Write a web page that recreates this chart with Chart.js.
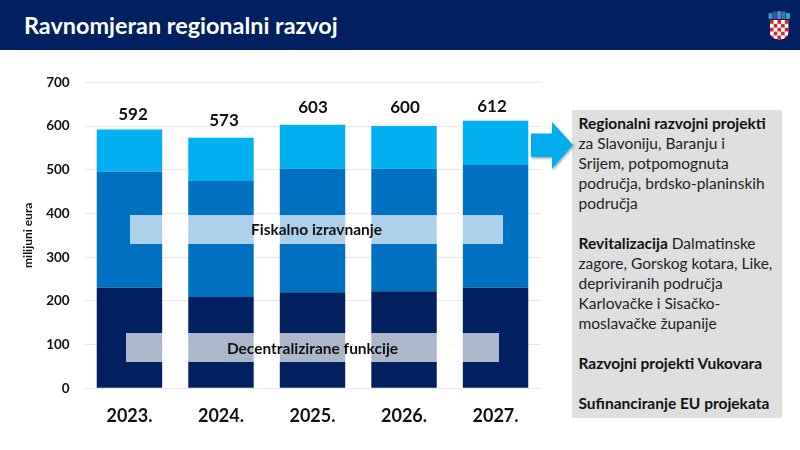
<!DOCTYPE html>
<html>
<head>
<meta charset="utf-8">
<script src="https://cdn.jsdelivr.net/npm/chart.js@4"></script>
<style>
  html, body { margin: 0; padding: 0; background: #fff; }
  body { position: relative; width: 800px; height: 450px; overflow: hidden; font-family: Lato, sans-serif; color: #111; }
  #chart { position: absolute; left: 0; top: 0; }
  #header { position: absolute; left: 0; top: 0; width: 800px; height: 50px; background: #002060; }
  #title { position: absolute; left: 24px; top: 8px; font-size: 23.4px; line-height: 34px; font-weight: 700; color: #fff; white-space: nowrap; }
  #shield { position: absolute; left: 768px; top: 10px; }
  .band { position: absolute; height: 29px; line-height: 29px; background: rgba(255,255,255,0.68); text-align: center; font-size: 15.5px; font-weight: 700; color: #111; white-space: nowrap; }
  #fiskalno { left: 130px; top: 215px; width: 373px; }
  #decentral { left: 126px; top: 333px; width: 373px; line-height: 30px; }
  #arrow { position: absolute; left: 528px; top: 118px; }
  #side { position: absolute; left: 572px; top: 110px; width: 209.5px; height: 308px; background: #dfdfdf; font-size: 15.5px; line-height: 20px; color: #222; white-space: nowrap; }
  #side div { position: absolute; left: 6.5px; }
  #side b { color: #111; }
</style>
</head>
<body>
<canvas id="chart" width="800" height="450"></canvas>
<div id="header">
  <div id="title">Ravnomjeran regionalni razvoj</div>
  <svg id="shield" width="24" height="30" viewBox="0 0 24 30">
    <defs><clipPath id="shieldClip"><path d="M2 10 H20.5 V22 Q20.5 29 11.2 29.5 Q2 29 2 22 Z"/></clipPath></defs>
    <rect x="0.5" y="3" width="4" height="6" rx="1" fill="#3f8fc0"/>
    <rect x="4.8" y="1.5" width="4" height="7.5" rx="1" fill="#2a5fa8"/>
    <rect x="9.2" y="1" width="4" height="8" rx="1" fill="#6a7fc0"/>
    <rect x="13.6" y="1.5" width="4" height="7.5" rx="1" fill="#2f7fb0"/>
    <rect x="18" y="3" width="4" height="6" rx="1" fill="#38a8a8"/>
    <rect x="2" y="10" width="18.5" height="20" fill="#fff" clip-path="url(#shieldClip)"/>
    <g id="checks" clip-path="url(#shieldClip)"></g>
  </svg>
</div>
<div class="band" id="fiskalno">Fiskalno izravnanje</div>
<div class="band" id="decentral">Decentralizirane funkcije</div>
<div id="side">
  <div style="top:3px"><b>Regionalni razvojni projekti</b></div>
  <div style="top:23px">za Slavoniju, Baranju i</div>
  <div style="top:43px">Srijem, potpomognuta</div>
  <div style="top:63px">područja, brdsko-planinskih</div>
  <div style="top:83px">područja</div>
  <div style="top:123px"><b>Revitalizacija</b> Dalmatinske</div>
  <div style="top:143px">zagore, Gorskog kotara, Like,</div>
  <div style="top:163px">depriviranih područja</div>
  <div style="top:183px">Karlovačke i Sisačko-</div>
  <div style="top:203px">moslavačke županije</div>
  <div style="top:243px"><b>Razvojni projekti Vukovara</b></div>
  <div style="top:283px"><b>Sufinanciranje EU projekata</b></div>
</div>
<svg id="arrow" width="50" height="56">
  <defs><filter id="sh" x="-20%" y="-20%" width="140%" height="140%"><feDropShadow dx="1" dy="1.5" stdDeviation="1.2" flood-color="#000" flood-opacity="0.35"/></filter></defs>
  <polygon points="3,15.5 24,15.5 24,4 45,27 24,51 24,39 3,39" fill="#00aeef" filter="url(#sh)"/>
</svg>
<script>
const years = ['2023.', '2024.', '2025.', '2026.', '2027.'];
const decentralizirane = [230, 209, 220, 222, 230];
const fiskalno = [266, 265, 282, 280, 281];
const regionalni = [96, 99, 101, 98, 101];
const totals = [592, 573, 603, 600, 612];
const yTicks = [0, 100, 200, 300, 400, 500, 600, 700];

// checker on the coat of arms
const checks = document.querySelector('#checks');
for (let r = 0; r < 5; r++) {
  for (let c = 0; c < 5; c++) {
    const cell = document.createElementNS('http://www.w3.org/2000/svg', 'rect');
    cell.setAttribute('x', 2 + c * 3.7);
    cell.setAttribute('y', 10 + r * 3.9);
    cell.setAttribute('width', 3.7);
    cell.setAttribute('height', 3.9);
    cell.setAttribute('fill', (r + c) % 2 === 0 ? '#d8232a' : '#ffffff');
    checks.appendChild(cell);
  }
}

// hand placed in the original slide, so each total has its own nudge
const nudgeX = [3.5, 3, 0.5, 1, -3.5];
const nudgeY = [-15, -17, -17, -18, -14];

const totalLabels = {
  id: 'totalLabels',
  afterDatasetsDraw(chart) {
    const { ctx, scales } = chart;
    ctx.save();
    ctx.font = '700 17px Lato, sans-serif';
    ctx.fillStyle = '#111';
    ctx.textAlign = 'center';
    ctx.textBaseline = 'middle';
    totals.forEach((total, i) => {
      ctx.fillText(String(total), scales.x.getPixelForValue(i) + nudgeX[i], scales.y.getPixelForValue(total) + nudgeY[i]);
    });
    ctx.restore();
  }
};

new Chart(document.querySelector('#chart'), {
  type: 'bar',
  data: {
    labels: years,
    datasets: [
      { label: 'Decentralizirane funkcije', data: decentralizirane, backgroundColor: '#002060' },
      { label: 'Fiskalno izravnanje', data: fiskalno, backgroundColor: '#0070c0' },
      { label: 'Regionalni razvojni projekti', data: regionalni, backgroundColor: '#00b0f0' }
    ]
  },
  options: {
    responsive: false,
    animation: false,
    barPercentage: 0.715,
    categoryPercentage: 1,
    layout: { padding: { left: 0, right: 258.7, top: 82.3, bottom: 0 } },
    plugins: { legend: { display: false }, tooltip: { enabled: false } },
    scales: {
      x: {
        stacked: true,
        grid: { display: false },
        border: { display: false },
        ticks: { color: '#111', padding: 9, font: { family: 'Lato', size: 18, weight: 700 } },
        afterFit: (scale) => { scale.height = 61.7; }
      },
      y: {
        stacked: true,
        min: 0,
        max: 700,
        afterBuildTicks: (scale) => { scale.ticks = yTicks.map((value) => ({ value })); },
        grid: { color: '#e9e9e9', lineWidth: 1, drawTicks: false },
        border: { display: false },
        ticks: { color: '#111', padding: 14, font: { family: 'Lato', size: 13.5, weight: 700 } },
        title: {
          display: true,
          text: 'milijuni eura',
          color: '#111',
          padding: { top: 21, bottom: 0 },
          font: { family: 'Lato', size: 12, weight: 700 }
        },
        afterFit: (scale) => { scale.width = 83.7; }
      }
    }
  },
  plugins: [totalLabels]
});
</script>
</body>
</html>
